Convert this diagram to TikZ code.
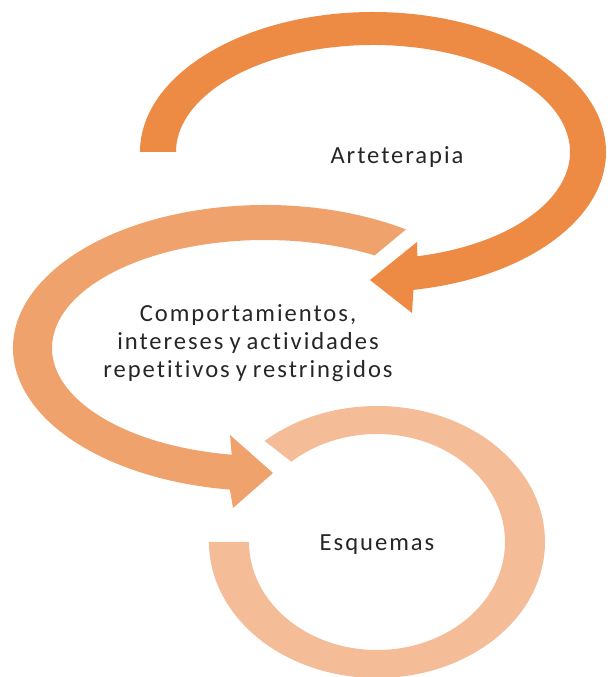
\documentclass[tikz,border=0pt]{standalone}
\usepackage{fontspec}
\setmainfont{Carlito}[LetterSpace=8,Ligatures=NoCommon,WordSpace=0.8]
\usepackage{tikz}
\usetikzlibrary{calc}
\tikzset{every picture/.append style={font=\fontsize{14}{16}\selectfont}}
\definecolor{arcdark}{HTML}{ED8A44}
\definecolor{arcmid}{HTML}{F0A26C}
\definecolor{arclight}{HTML}{F4BC97}
\definecolor{labelgray}{HTML}{262626}

\begin{document}
\begin{tikzpicture}[x=0.02cm,y=0.02cm,labeltext/.style={text=labelgray,inner sep=0pt}]
    \useasboundingbox (0,0) rectangle (608,677);
    \coordinate (ctop) at (373,525);
    \coordinate (cmid) at (265,329);
    \coordinate (cbot) at (377,135);
    % ring round Esquemas
    \fill[arclight] ($(cbot)+(132:168 and 136)$) arc[start angle=132,end angle=-180,x radius=168,y radius=136]
        -- ($(cbot)+(180:128 and 108)$) arc[start angle=-180,end angle=132,x radius=128,y radius=108] -- cycle;
    % arrow round the middle text
    \fill[arcmid] ($(cmid)+(56:252 and 143)$) arc[start angle=56,end angle=262,x radius=252,y radius=143]
        -- (233,169) -- (273,204) -- (230,242)
        -- ($(cmid)+(261:213 and 108)$) arc[start angle=261,end angle=59,x radius=213,y radius=108] -- cycle;
    % arrow round Arteterapia
    \fill[arcdark] ($(ctop)+(180:233 and 140)$) arc[start angle=180,end angle=-80,x radius=233,y radius=140]
        -- (412,364) -- (370,397) -- (417,435)
        -- ($(ctop)+(-77:197 and 107)$) arc[start angle=-77,end angle=180,x radius=197,y radius=107] -- cycle;
    \node[labeltext] (arte) at (397,520) {Arteterapia};
    \node[labeltext,align=center] (comp) at (248,334) {Comportamientos,\\intereses y actividades\\repetitivos y restringidos};
    \node[labeltext] (esq) at (377,132) {Esquemas};
\end{tikzpicture}
\end{document}
